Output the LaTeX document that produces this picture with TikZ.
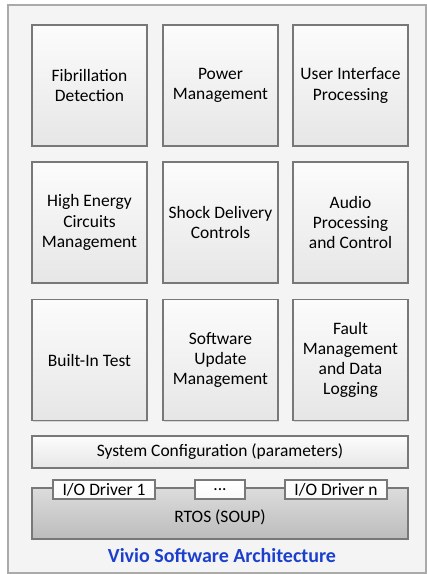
\documentclass[tikz,border=0pt]{standalone}
\usepackage{fontspec}
\setmainfont{Carlito}
\usetikzlibrary{shadows}
\definecolor{framebg}{RGB}{244,244,244}
\definecolor{frameline}{RGB}{170,170,170}
\definecolor{boxline}{RGB}{120,120,120}
\definecolor{boxtop}{RGB}{252,252,252}
\definecolor{boxbot}{RGB}{230,230,230}
\definecolor{rtostop}{RGB}{220,220,220}
\definecolor{rtosbot}{RGB}{188,188,188}
\definecolor{titleblue}{RGB}{28,64,205}
\begin{document}
\begin{tikzpicture}[x=0.75pt,y=-0.75pt,
  module/.style={draw=boxline, line width=0.8pt, top color=boxtop, bottom color=boxbot,
    drop shadow={shadow xshift=1pt, shadow yshift=-1pt, opacity=0.25},
    minimum width=86.25pt, minimum height=90.75pt, inner sep=0pt,
    align=center, font=\fontsize{13.1}{15.2}\selectfont},
  bar/.style={draw=boxline, line width=0.8pt, top color=boxtop, bottom color=boxbot,
    drop shadow={shadow xshift=1pt, shadow yshift=-1pt, opacity=0.25},
    minimum width=282pt, inner sep=0pt, font=\fontsize{13.1}{15.2}\selectfont},
  driver/.style={draw=boxline, line width=0.8pt, top color=white, bottom color=boxtop!90!boxbot,
    minimum height=14.25pt, inner sep=0pt, font=\fontsize{13.1}{15.2}\selectfont}]
  % page and outer frame
  \useasboundingbox (0,0) rectangle (427,574);
  \fill[white] (0,0) rectangle (427,574);
  \filldraw[fill=framebg, draw=frameline, line width=0.8pt] (8,5) rectangle (426,573);

  % module grid
  \node[module] (fib) at (89.5,85.5)  {Fibrillation\\Detection};
  \node[module] (pwr) at (220.5,85.5) {Power\\Management};
  \node[module] (ui)  at (350.5,85.5) {User Interface\\Processing};

  \node[module] (hec) at (89.5,222.5)  {High Energy\\Circuits\\Management};
  \node[module] (sdc) at (220.5,222.5) {Shock Delivery\\Controls};
  \node[module] (aud) at (350.5,222.5) {Audio\\Processing\\and Control};

  \node[module] (bit) at (89.5,360)  {Built-In Test};
  \node[module] (swu) at (220.5,360) {Software\\Update\\Management};
  \node[module] (flt) at (350.5,360) {Fault\\Management\\and Data\\Logging};

  % configuration layer
  \node[bar, minimum height=24pt] (cfg) at (220,452) {System Configuration (parameters)};

  % operating system layer with drivers on its top edge
  \node[bar, minimum height=38.25pt, top color=rtostop, bottom color=rtosbot,
        text depth=0pt] (rtos) at (220,513.5) {\raisebox{-4pt}{RTOS (SOUP)}};
  \node[driver, minimum width=76.5pt] (drv1) at (104,489.5) {I/O Driver 1};
  \node[driver, minimum width=37.5pt] (drvd) at (220,489.5) {...};
  \node[driver, minimum width=76.5pt] (drvn) at (336,489.5) {I/O Driver n};

  % caption
  \node[font=\fontsize{15}{18}\selectfont\bfseries, text=titleblue] (title) at (222,556)
    {Vivio Software Architecture};
\end{tikzpicture}
\end{document}
